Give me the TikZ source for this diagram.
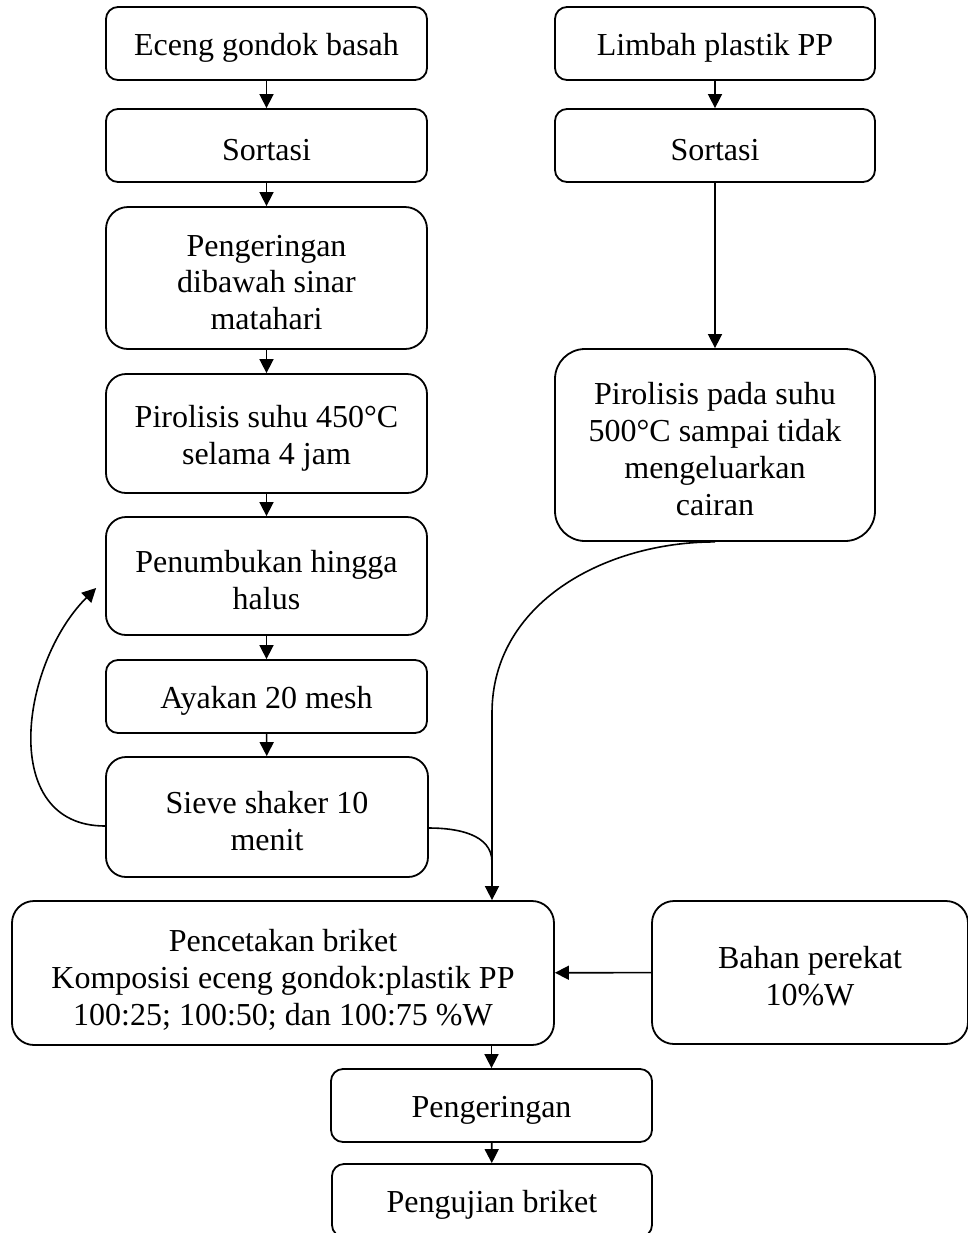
\documentclass[tikz,border=0pt]{standalone}
\usepackage{fontspec}
\setmainfont{Liberation Serif}
\usepackage{tikz}
\usetikzlibrary{arrows.meta}

\newcommand{\liftline}[1][15pt]{\rule{0pt}{#1}}

\begin{document}
\begin{tikzpicture}[
  x=0.5pt, y=0.5pt,
  font=\fontsize{16}{18.4}\selectfont,
  box/.style={draw, line width=0.9pt, align=center, inner sep=2pt, minimum width=160.5pt, minimum height=36.5pt, rounded corners=6pt, execute at begin node={\liftline}},
  arr/.style={-{Triangle[length=7pt,width=7pt]}, line width=0.8pt},
  link/.style={line width=0.8pt}
]
\useasboundingbox (0,0) rectangle (968,-1233);

% kolom kiri: eceng gondok
\node[box] (eceng) at (266.5,-43.5) {Eceng gondok basah};
\node[box] (sortL) at (266.5,-145.5) {Sortasi};
\node[box, minimum height=71pt, rounded corners=11pt] (kering) at (266.5,-278) {\liftline Pengeringan\\dibawah sinar\\matahari};
\node[box, minimum height=59.5pt, rounded corners=10pt] (pirL) at (266.5,-433.5) {\liftline[16pt]Pirolisis suhu 450°C\\selama 4 jam};
\node[box, minimum height=59pt, rounded corners=10pt] (tumbuk) at (266.5,-576) {\liftline Penumbukan hingga\\halus};
\node[box] (ayak) at (266.5,-696.5) {Ayakan 20 mesh};
\node[box, minimum width=161pt, minimum height=60pt, rounded corners=10pt] (sieve) at (267,-817) {\liftline Sieve shaker 10\\menit};

% kolom kanan: plastik PP
\node[box, minimum width=160pt] (limbah) at (715,-43.5) {Limbah plastik PP};
\node[box, minimum width=160pt] (sortR) at (715,-145.5) {Sortasi};
\node[box, minimum width=160pt, minimum height=96pt, rounded corners=15pt] (pirR) at (715,-445) {\liftline Pirolisis pada suhu\\500°C sampai tidak\\mengeluarkan\\cairan};

% bawah
\node[box, minimum width=271pt, minimum height=72pt, rounded corners=11pt] (cetak) at (283,-973) {\liftline[18pt]Pencetakan briket\\Komposisi eceng gondok:plastik PP\\100:25; 100:50; dan 100:75 \%W};
\node[box, minimum width=158pt, minimum height=71.5pt, rounded corners=11pt] (perekat) at (810,-972.5) {\liftline Bahan perekat\\10\%W};
\node[box] (kering2) at (491.5,-1105.5) {Pengeringan};
\node[box, minimum width=160pt] (uji) at (492,-1200.5) {Pengujian briket};

\coordinate (bend) at (492,-713);
\coordinate (merge) at (492,-862);

\draw[arr] (eceng) -- (sortL);
\draw[arr] (sortL) -- (kering);
\draw[arr] (kering) -- (pirL);
\draw[arr] (pirL) -- (tumbuk);
\draw[arr] (tumbuk) -- (ayak);
\draw[arr] (ayak) -- (sieve);
\draw[arr] ([yshift=-4.5pt]sieve.west) to[out=180, in=225, looseness=1.15] ([xshift=-4.5pt, yshift=-6pt]tumbuk.west);

\draw[arr] (limbah) -- (sortR);
\draw[arr] (sortR) -- (pirR);
\draw[arr] (pirR.south) to[out=180, in=90] (bend) -- (bend |- cetak.north);
\draw[link] ([yshift=-5.5pt]sieve.east) to[out=0, in=90] (merge);

\draw[arr] (perekat) -- (cetak);
\draw[arr] (cetak.south -| kering2) -- (kering2);
\draw[arr] (kering2) -- (uji);
\end{tikzpicture}
\end{document}
